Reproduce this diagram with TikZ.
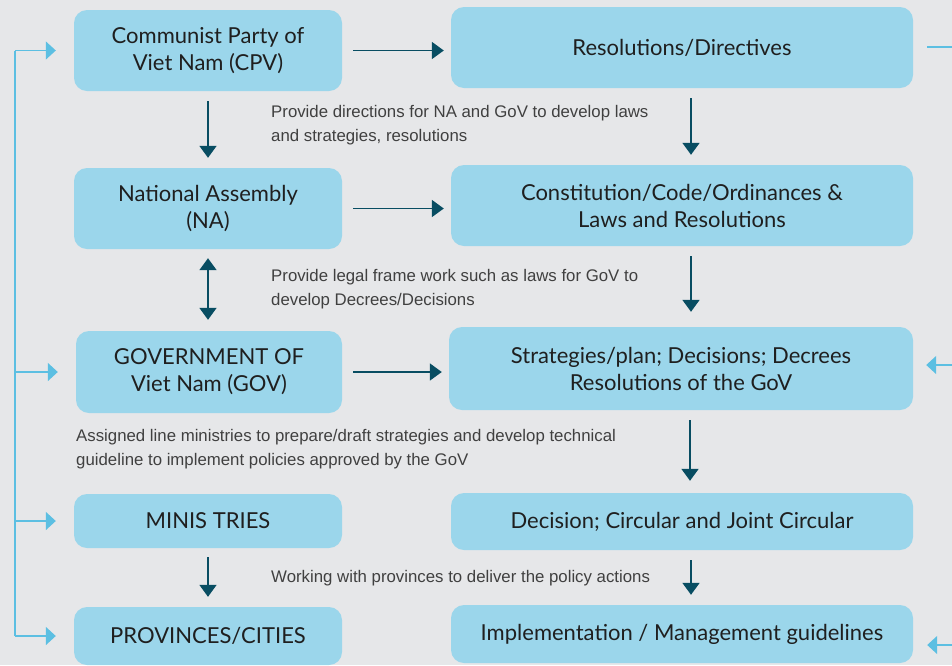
\documentclass[tikz,border=0pt]{standalone}
\usepackage{fontspec}
\setmainfont{Lato}
\newfontfamily\notefont{Liberation Sans}
\usetikzlibrary{arrows.meta}

\definecolor{boxblue}{RGB}{155,214,235}
\definecolor{bggray}{RGB}{230,231,233}
\definecolor{darkteal}{RGB}{8,77,98}
\definecolor{lineblue}{RGB}{92,191,226}

\begin{document}
\begin{tikzpicture}[x=1pt, y=-1pt,
    box/.style={fill=boxblue, rounded corners=13pt, align=center, inner sep=0pt,
      text=black!88, font=\fontsize{22}{27}\selectfont},
    leftbox/.style={box, minimum width=268pt},
    rightbox/.style={box, minimum width=462pt},
    flow/.style={darkteal, line width=1.8pt, -{Triangle[length=12pt,width=17pt]}},
    feed/.style={lineblue, line width=1.4pt, -{Triangle[length=10pt,width=18pt]}},
    note/.style={anchor=west, align=left, inner sep=0pt, text=black!75,
      font=\notefont\fontsize{16.8}{24}\selectfont}]

    % Background
    \fill[bggray] (0,0) rectangle (952,665);
    \useasboundingbox (0,0) rectangle (952,665);

    % Left column: institutions
    \node[leftbox, minimum height=81pt] (cpv) at (208,50.5) {Communist Party of\\Viet Nam (CPV)};
    \node[leftbox, minimum height=81pt] (na) at (208,208.5) {National Assembly\\(NA)};
    \node[leftbox, minimum height=82pt, minimum width=266pt] (gov) at (209,372) {GOVERNMENT OF\\Viet Nam (GOV)};
    \node[leftbox, minimum height=54pt] (min) at (208,521) {MINIS TRIES};
    \node[leftbox, minimum height=58pt] (prov) at (208,636) {PROVINCES/CITIES};

    % Right column: documents
    \node[rightbox, minimum height=81pt] (res) at (682,47.5) {Resolutions/Directives};
    \node[rightbox, minimum height=81pt] (const) at (682,205.5) {Constitution/Code/Ordinances \&\\Laws and Resolutions};
    \node[rightbox, minimum height=83pt, minimum width=464pt] (strat) at (681,368.5) {Strategies/plan; Decisions; Decrees\\Resolutions of the GoV};
    \node[rightbox, minimum height=57pt] (dec) at (682,521.5) {Decision; Circular and Joint Circular};
    \node[rightbox, minimum height=58pt] (impl) at (682,634) {Implementation / Management guidelines};

    % Notes
    \node[note] (n1) at (271,125) {Provide directions for NA and GoV to develop laws\\and strategies, resolutions};
    \node[note] (n2) at (271,289) {Provide legal frame work such as laws for GoV to\\develop Decrees/Decisions};
    \node[note] (n3) at (76,449) {Assigned line ministries to prepare/draft strategies and develop technical\\guideline to implement policies approved by the GoV};
    \node[note] (n4) at (271,578) {Working with provinces to deliver the policy actions};

    % Horizontal arrows
    \foreach \a/\b in {cpv/res, na/const, gov/strat} {
        \draw[flow, shorten <=11pt, shorten >=7pt] (\a.east) -- (\a.east -| \b.west);
      }

    % Vertical arrows, left
    \draw[flow, shorten <=10pt, shorten >=10pt] (cpv.south) -- (na.north);
    \draw[flow, {Triangle[length=12pt,width=17pt]}-{Triangle[length=12pt,width=17pt]}, shorten <=9pt, shorten >=11pt] (na.south) -- (na.south |- gov.north);
    \draw[flow, shorten <=9pt, shorten >=10pt] (min.south) -- (prov.north);

    % Vertical arrows, right
    \foreach \a/\b/\s in {res/const/10, const/strat/15, strat/dec/12, dec/impl/10} {
        \draw[flow, shorten <=10pt, shorten >=\s pt] ([xshift=9pt]\a.south) -- ([xshift=9pt]\a.south |- \b.north);
      }

    % Feedback line on the left
    \coordinate (ltop) at (15,51);
    \coordinate (lbot) at (15,636);
    \draw[lineblue, line width=1.4pt] (ltop) -- (lbot);
    \foreach \b in {cpv, gov, min, prov} {
        \draw[feed, shorten >=18pt] (ltop |- \b.west) -- (\b.west);
      }

    % Lines leaving on the right
    \coordinate (rres) at (952,47);
    \coordinate (rstrat) at (952,365);
    \coordinate (rimpl) at (952,645);
    \draw[lineblue, line width=1.4pt, shorten <=14pt] (res.east |- rres) -- (rres);
    \draw[feed, shorten >=13pt] (rstrat) -- (strat.east |- rstrat);
    \draw[feed, shorten >=14pt] (rimpl) -- (impl.east |- rimpl);
  \end{tikzpicture}
\end{document}
